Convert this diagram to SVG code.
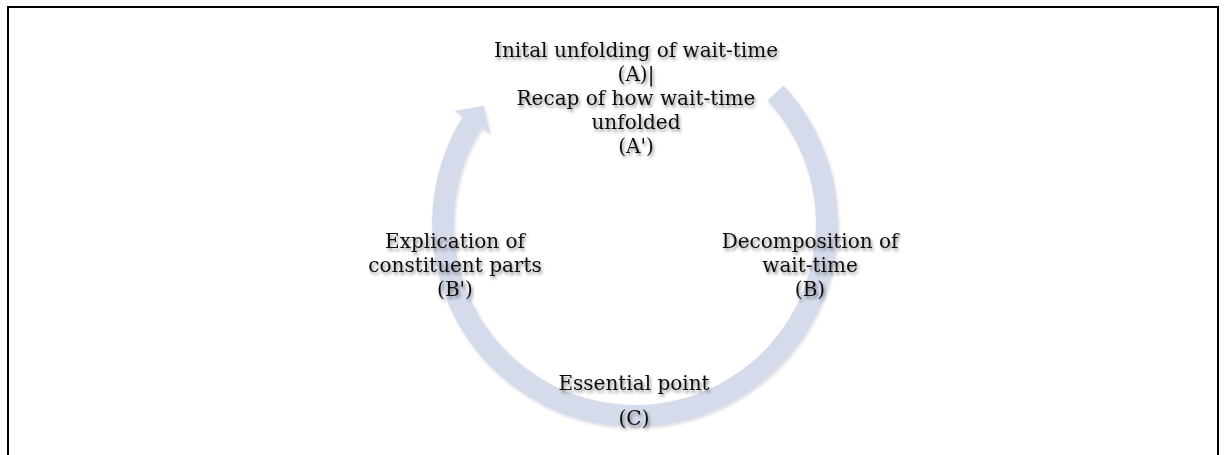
<svg xmlns="http://www.w3.org/2000/svg" width="1227" height="455" viewBox="0 0 1227 455">
  <defs>
    <filter id="txtShadow" x="-10%" y="-30%" width="120%" height="170%">
      <feDropShadow dx="1.5" dy="2.5" stdDeviation="1.8" flood-color="#000" flood-opacity="0.45"/>
    </filter>
    <filter id="ringShadow" x="-10%" y="-10%" width="120%" height="120%">
      <feDropShadow dx="1" dy="1.5" stdDeviation="1.5" flood-color="#000" flood-opacity="0.15"/>
    </filter>
  </defs>
  <style>
    .lbl { font-family: "DejaVu Serif", "Liberation Serif", serif; font-size: 20px; fill: #111; text-anchor: middle; filter: url(#txtShadow); }
    .ring { fill: #d5dbeb; stroke: none; filter: url(#ringShadow); }
    .frame { fill: none; stroke: #000; stroke-width: 2; }
  </style>
  <rect width="1227" height="455" fill="#fff"/>
  <path class="frame" d="M8,455 V7 H1218 V455"/>
  <g id="connectors">
    <path class="ring" d="M783.5,85.6 A203,203 0 1 1 462.9,116.4 L454.4,111.1 L483.7,105.8 L490.0,133.4 L481.5,128.1 A181,181 0 1 0 767.4,100.6 Z"/>
  </g>
  <g id="node-A">
    <text class="lbl" x="636" y="57">Inital unfolding of wait-time</text>
    <text class="lbl" x="636" y="81">(A)|</text>
    <text class="lbl" x="636" y="105">Recap of how wait-time</text>
    <text class="lbl" x="636" y="129">unfolded</text>
    <text class="lbl" x="636" y="153">(A')</text>
  </g>
  <g id="node-B">
    <text class="lbl" x="810" y="248">Decomposition of</text>
    <text class="lbl" x="810" y="272">wait-time</text>
    <text class="lbl" x="810" y="296">(B)</text>
  </g>
  <g id="node-C">
    <text class="lbl" x="634" y="390">Essential point</text>
    <text class="lbl" x="634" y="425">(C)</text>
  </g>
  <g id="node-Bp">
    <text class="lbl" x="455" y="248">Explication of</text>
    <text class="lbl" x="455" y="272">constituent parts</text>
    <text class="lbl" x="455" y="296">(B')</text>
  </g>
</svg>
